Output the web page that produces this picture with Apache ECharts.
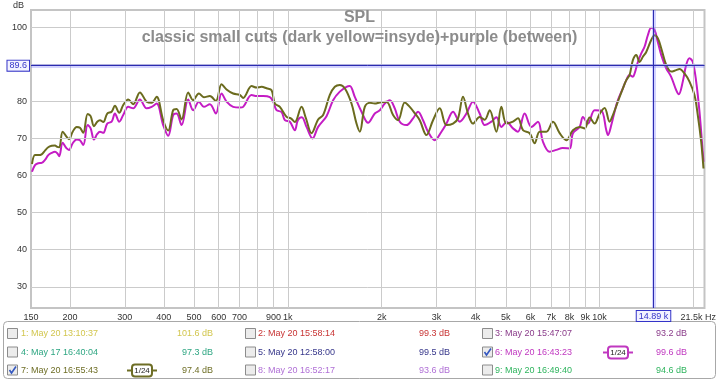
<!DOCTYPE html>
<html><head><meta charset="utf-8">
<script src="https://cdn.jsdelivr.net/npm/echarts@6/dist/echarts.min.js"></script>
<style>html,body{margin:0;padding:0;background:#fff}#c{width:719px;height:382px}</style>
</head><body><div id="c"></div>
<script>
// ---- data ----
const freqInsyde = [151.1,154.5,158.3,162.3,166.3,170.4,174.8,179.1,182.1,184.8,189.5,195.2,198.6,204.1,210.2,215.3,220.7,227.9,233.0,238.8,244.7,249.6,255.8,263.4,272.1,278.8,287.8,296.4,307.6,319.1,335.3,352.3,365.6,379.3,398.2,413.2,428.7,439.6,456.1,478.9,496.9,518.3,537.7,562.1,587.5,612.8,635.8,667.6,701.5,
719.0,765.0,793.7,823.6,854.5,886.7,908.5,942.7,990.4,1022.4,1053,1106.4,1142.1,1191.1,1250.6,1297.6,1363.4,1414.6,1467.8,1523,1600.2,1660.3,1701.3,1765.2,1831.6,1900.4,1971.9,2071.8,2175.2,2257,2371.4,2460.6,2553.1,2649,2783.3,2922.2,3070.3,3226,3387,3514.3,3646.4,3783.5,3925.6,4124.6,4279.7,4440.5,4665.6,4841,5023,5273.8,5472,5677.7,5965.5,6189.8,6422.5,6748,7084.9,7444,7821,8211.8,8628,8952.4,9288.9,9638,10000,10376,10766,11031,11446,11876,12179,12478,12787,13112,13434,13765,14112,14642,15003,15371,15762,16354,16968,17605,18040,18718,19423,20153,20650,21175,21538];
const splInsyde = [63.1,65.5,65.5,65.7,66.7,67.6,68.0,68.1,67.7,67.6,71.8,70.4,69.8,71.8,73.1,72.9,71.5,76.6,76.0,73.3,74.5,74.9,74.4,76.7,77.2,78.8,76.9,79.0,80.5,79.2,82.4,79.9,79.6,81.2,74.9,72.1,77.6,77.9,75.1,82.4,80.3,82.1,81.1,81.4,80.1,84.6,83.2,82.1,81.7,
80.9,84.1,83.7,83.9,83.5,83.0,79.4,78.5,75.8,75.4,74.4,78.5,75.5,71.4,75.1,76.3,81.7,83.9,84.4,83.5,79.4,74.0,71.8,78.5,79.6,79.4,79.7,79.9,76.3,74.9,79.7,78.5,76.8,74.9,70.9,74.9,78.1,73.6,74.0,75.4,81.2,76.7,74.0,75.8,75.0,77.6,71.8,78.5,74.0,74.5,75.4,72.2,71.4,68.7,71.8,71.8,74.5,71.4,69.5,72.2,73.1,72.7,75.6,74.0,76.6,78.2,74.5,76.3,79.9,83.5,85.7,87.1,91.1,92.5,90.6,92.0,93.3,96.5,97.8,97.0,94.3,89.8,88.0,88.4,88.7,87.5,85.3,81.7,76.3,69.1,61.9];
const freqBetween = [151.1,154.5,158.3,162.3,166.3,170.4,174.8,179.1,182.1,184.8,189.5,195.2,198.6,204.1,210.2,215.3,220.7,227.9,233.0,238.8,244.7,249.6,255.8,263.4,272.1,278.8,287.8,296.4,307.6,319.1,335.3,352.3,365.6,379.3,398.2,413.2,428.7,439.6,456.1,478.9,496.9,518.3,537.7,562.1,587.5,612.8,635.8,667.6,701.5,
719.0,765.0,793.7,833.4,875.6,897.2,920.0,954.6,978.1,1014.9,1053,1076.6,1108.9,1148,1200,1250.6,1330.6,1397,1467.8,1542.2,1580.2,1639.7,1722.8,1808.7,1900.4,1971.9,2046,2122.9,2202.7,2285.5,2401.4,2521.2,2616,2714.3,2816.3,2959.1,3109.1,3226,3387,3558.7,3739,3925.6,4124.6,4279.7,4496.6,4665.6,4841,5034,5273.8,5472,5749.4,6040.8,6342.4,6580.8,6914.5,7264.9,7610.7,8014,8211.8,8628,8840.8,9173,9638,10126,10507,10632,10902,11170,11446,11876,12179,12478,12787,12948,13267,13604,13936,14280,14642,15003,15371,15762,16354,16968,17605,17947,18484,18954,19423,19901,20407,20911,21332,21538];
const splBetween = [61.0,62.8,63.3,63.4,64.2,65.5,66.1,66.4,66.0,65.2,68.8,67.3,66.9,68.7,69.7,69.5,68.2,73.6,72.7,69.7,71.2,71.8,71.5,74.0,74.5,76.7,74.5,76.3,78.5,78.1,80.5,78.1,78.5,79.4,73.6,70.7,76.3,76.7,73.6,80.5,77.6,79.9,78.5,79.2,76.7,82.1,79.9,78.5,78.3,
78.5,81.7,81.4,81.4,81.1,79.9,77.6,77.1,74.9,74.5,72.2,74.9,75.7,73.1,70.0,73.1,76.0,80.3,82.6,83.9,84.1,81.2,77.2,74.2,76.7,77.6,79.4,80.3,78.1,74.5,73.6,75.4,77.2,74.9,71.8,69.5,71.8,74.0,77.2,74.5,76.7,79.9,76.7,73.6,74.5,75.7,73.1,74.4,72.7,71.8,76.7,73.1,74.5,69.1,66.4,66.9,67.4,67.3,71.4,73.1,75.8,74.0,77.6,77.5,72.2,70.9,73.6,77.2,80.3,83.5,85.7,87.1,86.6,87.5,90.6,92.9,94.7,97.8,99.8,99.2,96.0,92.5,88.9,86.6,83.0,81.9,85.3,89.8,91.6,90.6,85.3,77.2,68.2,63.7];

const xTickValues = [150,200,300,400,500,600,700,900,1000,2000,3000,4000,5000,6000,7000,8000,9000,10000,21500];
const xTickLabels = ['150','200','300','400','500','600','700','900','1k','2k','3k','4k','5k','6k','7k','8k','9k','10k','21.5k Hz'];
const xGridValues = [200,300,400,500,600,700,800,900,1000,2000,3000,4000,5000,6000,7000,8000,9000,10000,20000];
const yTickValues = [30,40,50,60,70,80,100];
const yGridValues = [30,40,50,60,70,80,90,100];
const cursorFreq = 14890, cursorFreqLabel = '14.89 k';
const cursorSPL = 89.6, cursorSPLLabel = '89.6';

const legendNames = ['1: May 20 13:10:37','2: May 20 15:58:14','3: May 20 15:47:07','4: May 17 16:40:04','5: May 20 12:58:00','6: May 20 16:43:23','7: May 20 16:55:43','8: May 20 16:52:17','9: May 20 16:49:40'];
const legendValues = ['101.6 dB','99.3 dB','93.2 dB','97.3 dB','99.5 dB','99.6 dB','97.4 dB','93.6 dB','94.6 dB'];
const legendColors = ['#d2c64e','#c83434','#8a3c8a','#2ea682','#36368a','#c038c0','#6e6e26','#b070d6','#2fb45e'];
const legendChecked = [false,false,false,false,false,true,true,false,false];
const smoothingLabel = '1/24';

const colInsyde = '#6b6b1e', colBetween = '#c41cc4';

// ---- chart ----
const chart = echarts.init(document.getElementById('c'));
const FONT = 'Liberation Sans, Arial, sans-serif';

function zip(a,b){return a.map((v,i)=>[v,b[i]]);}

const graphics = [
  {type:'text', left:13, top:1, style:{text:'dB', font:'9px '+FONT, fill:'#333'}},
  {type:'rect', shape:{x:3.5,y:321.5,width:712,height:57,r:4}, style:{fill:'#fff', stroke:'#a8a8a8', lineWidth:1}, z:1}
];
const colX = [7, 245, 482], txtX = [21, 258, 495], valX = [213, 450, 687];
const rowY = [334, 352.5, 370.5];
const iconX = [142, 380, 618];
legendNames.forEach((name,i)=>{
  const c = i % 3, r = Math.floor(i/3), y = rowY[r];
  graphics.push({type:'rect', shape:{x:colX[c]+0.5,y:y-5.5,width:10,height:10}, style:{fill:'#ececec', stroke:'#8c8c8c', lineWidth:1}, z:2});
  if (legendChecked[i]) {
    graphics.push({type:'polyline', shape:{points:[[colX[c]+2.5,y-0.5],[colX[c]+4.5,y+2.5],[colX[c]+9,y-4]]}, style:{stroke:'#3558c0', lineWidth:1.6, fill:null}, z:3});
    graphics.push({type:'line', shape:{x1:iconX[c]-15,y1:y,x2:iconX[c]+15,y2:y}, style:{stroke:legendColors[i], lineWidth:2}, z:2});
    graphics.push({type:'rect', shape:{x:iconX[c]-10,y:y-6,width:20,height:12,r:3}, style:{fill:'#fff', stroke:legendColors[i], lineWidth:2}, z:3});
    graphics.push({type:'text', x:iconX[c], y:y, style:{text:smoothingLabel, font:'8px '+FONT, fill:'#222', align:'center', verticalAlign:'middle'}, z:4});
  }
  graphics.push({type:'text', x:txtX[c], y:y, style:{text:name, font:'9px '+FONT, fill:legendColors[i], verticalAlign:'middle'}, z:2});
  graphics.push({type:'text', x:valX[c], y:y, style:{text:legendValues[i], font:'9px '+FONT, fill:legendColors[i], align:'right', verticalAlign:'middle'}, z:2});
});

const option = {
  animation:false,
  backgroundColor:'#fff',
  textStyle:{fontFamily:FONT},
  title:{
    left:'center', top:5, padding:5, itemGap:4,
    text:'SPL', subtext:'classic small cuts (dark yellow=insyde)+purple (between)',
    textStyle:{fontSize:16, fontWeight:'bold', color:'#8c8c8c'},
    subtextStyle:{fontSize:16, fontWeight:'bold', color:'#8c8c8c'}
  },
  grid:{left:31, right:14, top:10, bottom:74, show:true, backgroundColor:'#fff', borderColor:'#c4c4c4', borderWidth:2},
  xAxis:{
    type:'log', logBase:10, min:150, max:21700,
    axisLine:{show:false}, axisTick:{show:false}, splitLine:{show:false},
    axisLabel:{customValues:xTickValues, color:'#333', fontSize:9, margin:5,
      rich:{last:{fontSize:9, color:'#333', padding:[0,10,0,0]}},
      formatter:(v)=>{const i = xTickValues.findIndex(t=>Math.abs(t-v)/t<1e-6); if(i<0) return ''; return i===xTickValues.length-1 ? '{last|'+xTickLabels[i]+'}' : xTickLabels[i];}}
  },
  yAxis:{
    type:'value', min:24.3, max:104.6,
    axisLine:{show:false}, axisTick:{show:false}, splitLine:{show:false},
    axisLabel:{customValues:yTickValues, color:'#333', fontSize:9, margin:4}
  },
  series:[
    {type:'line', data:[], z:1, silent:true,
      markLine:{silent:true, symbol:'none', label:{show:false}, emphasis:{disabled:true},
        lineStyle:{color:'#cbcbcb', width:1, type:'solid'},
        data:[...xGridValues.map(v=>({xAxis:v})), ...yGridValues.map(v=>({yAxis:v}))]}},
    {name:'between', type:'line', data:zip(freqBetween, splBetween), showSymbol:false, smooth:0.35, z:3,
      lineStyle:{color:colBetween, width:2}, itemStyle:{color:colBetween}},
    {name:'insyde', type:'line', data:zip(freqInsyde, splInsyde), showSymbol:false, smooth:0.35, z:3,
      lineStyle:{color:colInsyde, width:2}, itemStyle:{color:colInsyde}},
    {type:'line', data:[], z:4, silent:true,
      markLine:{silent:true, symbol:'none', emphasis:{disabled:true},
        lineStyle:{color:'rgba(130,130,255,0.35)', width:4, type:'solid'}, label:{show:false},
        data:[{xAxis:cursorFreq},{yAxis:cursorSPL}]}},
    {type:'line', data:[], z:5, silent:true,
      markLine:{silent:true, symbol:'none', emphasis:{disabled:true},
        lineStyle:{color:'#2c2cb0', width:1, type:'solid'},
        label:{show:true, position:'start', color:'#3434c8', fontSize:9, backgroundColor:'#f2f2ff', borderColor:'#3434c8', borderWidth:1, padding:[1,2,0,2], distance:3},
        data:[{xAxis:cursorFreq, label:{formatter:cursorFreqLabel}},{yAxis:cursorSPL, label:{formatter:cursorSPLLabel, distance:2}}]}}
  ],
  graphic:graphics
};
chart.setOption(option);
</script></body></html>
